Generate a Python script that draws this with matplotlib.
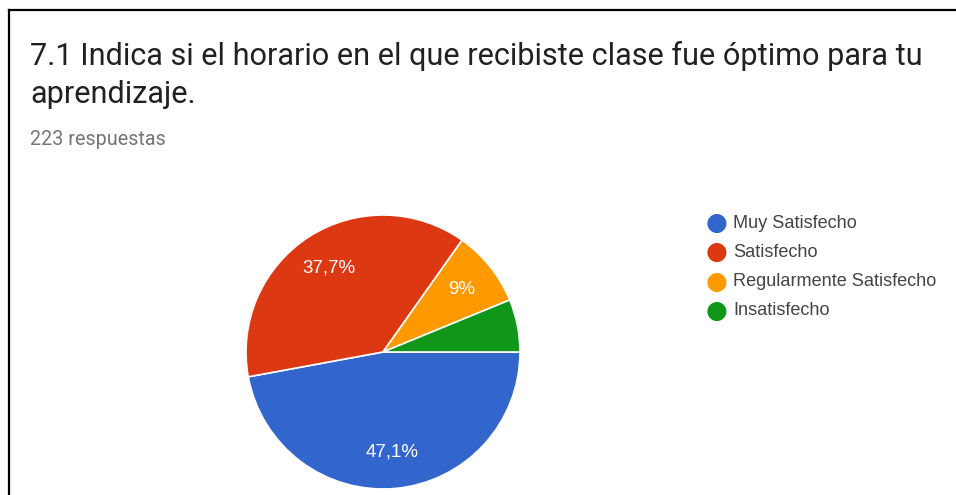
import matplotlib
matplotlib.use("Agg")
import matplotlib.pyplot as plt
from matplotlib.lines import Line2D

title_lines = ["7.1 Indica si el horario en el que recibiste clase fue óptimo para tu",
               "aprendizaje."]
subtitle = "223 respuestas"
categories = ["Muy Satisfecho", "Satisfecho", "Regularmente Satisfecho", "Insatisfecho"]
values = [47.1, 37.7, 9.0, 6.2]
colors = ["#3366CC", "#DC3912", "#FF9900", "#109618"]

W, H = 956, 495
fig = plt.figure(figsize=(W / 100, H / 100), dpi=100)
fig.patch.set_facecolor("white")

# frame lines (top and left)
fig.add_artist(Line2D([9 / W, 1], [1 - 10 / H, 1 - 10 / H], color="black", lw=1.6))
fig.add_artist(Line2D([9 / W, 9 / W], [0, 1 - 10 / H], color="black", lw=1.6))

for i, line in enumerate(title_lines):
    fig.text(30 / W, 1 - (65 + 38 * i) / H, line, fontsize=22.1, family="Roboto",
             color="#212121", va="baseline", ha="left")
fig.text(30 / W, 1 - 145 / H, subtitle, fontsize=14.2, family="Roboto", color="#757575",
         va="baseline", ha="left")

cx, cy, r = 383, H - 352, 137
ax = fig.add_axes([(cx - r) / W, (cy - r) / H, 2 * r / W, 2 * r / H])


def fmt(p):
    if p < 7:
        return ""
    s = f"{p:.1f}"
    if s.endswith(".0"):
        s = s[:-2]
    return s.replace(".", ",") + "%"


wedges, texts, autotexts = ax.pie(values, colors=colors, startangle=0, counterclock=False,
                                  autopct=fmt, pctdistance=0.73,
                                  wedgeprops=dict(edgecolor="white", linewidth=1.2),
                                  textprops=dict(color="white", fontsize=13.5,
                                                 family="Liberation Sans"))
for w in wedges:
    w.set_clip_on(False)
ax.set_xlim(-1, 1)
ax.set_ylim(-1, 1)
ax.set_aspect("equal")
ax.axis("off")

# legend
ly0 = 223
dy = 29.3
for i, (c, lab) in enumerate(zip(colors, categories)):
    y = 1 - (ly0 + i * dy) / H
    fig.text(716.5 / W, y, "\u25CF", color=c, fontsize=18, ha="center", va="center",
             family="DejaVu Sans")
    fig.text(733 / W, y, lab, color="#444444", fontsize=13.1, ha="left", va="center",
             family="Liberation Sans")

fig.savefig("out.png", dpi=100)
